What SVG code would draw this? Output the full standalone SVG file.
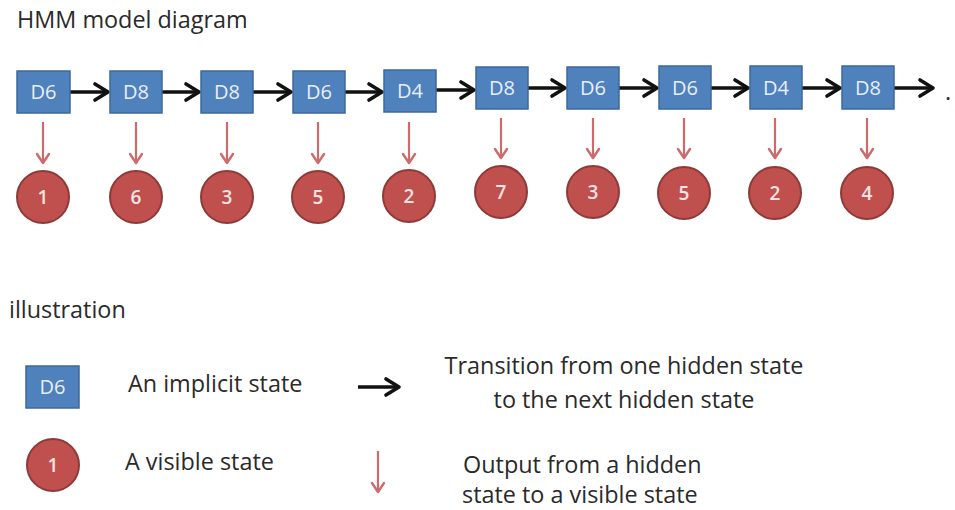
<svg xmlns="http://www.w3.org/2000/svg" width="955" height="510" viewBox="0 0 955 510">
<defs>
<style>
.t{font-family:"Open Sans","Noto Sans",sans-serif;fill:#2a2a2a;font-size:23.4px}
.box{fill:#4f81bd;stroke:#3c6a9e;stroke-width:1.5}
.bt{font-family:"Open Sans","Noto Sans",sans-serif;font-size:20px;fill:#e8eef8;text-anchor:middle}
.cir{fill:#c0504d;stroke:#8e3a38;stroke-width:2}
.ct{font-family:"Open Sans","Noto Sans",sans-serif;font-size:19px;fill:#f6e4e4;text-anchor:middle;font-weight:600}
.blk{stroke:#111;stroke-width:3.4;fill:none}
.red{stroke:#cd6b6b;stroke-width:2.2;fill:none}
</style>
<marker id="ab" markerUnits="userSpaceOnUse" markerWidth="20" markerHeight="22" refX="16" refY="11" orient="auto" viewBox="0 0 20 22">
<path d="M3,3 L16,11 L3,19" fill="none" stroke="#111" stroke-width="3.6" stroke-linecap="round" stroke-linejoin="round"/>
</marker>
<marker id="ar" markerUnits="userSpaceOnUse" markerWidth="14" markerHeight="16" refX="11" refY="8" orient="auto" viewBox="0 0 14 16">
<path d="M2,2 L11,8 L2,14" fill="none" stroke="#cd6b6b" stroke-width="2.4" stroke-linecap="round" stroke-linejoin="round"/>
</marker>
</defs>
<rect width="955" height="510" fill="#ffffff"/>
<text class="t" x="17" y="28">HMM model diagram</text>

<g id="connectors">
<line class="blk" x1="70" y1="92" x2="108" y2="92" marker-end="url(#ab)"/>
<line class="blk" x1="162" y1="92" x2="199" y2="92" marker-end="url(#ab)"/>
<line class="blk" x1="253" y1="92" x2="291" y2="92" marker-end="url(#ab)"/>
<line class="blk" x1="345" y1="92" x2="382" y2="92" marker-end="url(#ab)"/>
<line class="blk" x1="436" y1="90" x2="474" y2="90" marker-end="url(#ab)"/>
<line class="blk" x1="528" y1="88" x2="565" y2="88" marker-end="url(#ab)"/>
<line class="blk" x1="619" y1="88" x2="657" y2="88" marker-end="url(#ab)"/>
<line class="blk" x1="711" y1="88" x2="748" y2="88" marker-end="url(#ab)"/>
<line class="blk" x1="802" y1="88" x2="840" y2="88" marker-end="url(#ab)"/>
<line class="blk" x1="894" y1="88" x2="933" y2="88" marker-end="url(#ab)"/>
<line class="red" x1="43" y1="122" x2="43" y2="163" marker-end="url(#ar)"/>
<line class="red" x1="136" y1="122" x2="136" y2="163" marker-end="url(#ar)"/>
<line class="red" x1="227" y1="122" x2="227" y2="163" marker-end="url(#ar)"/>
<line class="red" x1="318" y1="122" x2="318" y2="163" marker-end="url(#ar)"/>
<line class="red" x1="409" y1="122" x2="409" y2="163" marker-end="url(#ar)"/>
<line class="red" x1="501" y1="118" x2="501" y2="158" marker-end="url(#ar)"/>
<line class="red" x1="593" y1="118" x2="593" y2="158" marker-end="url(#ar)"/>
<line class="red" x1="684" y1="118" x2="684" y2="158" marker-end="url(#ar)"/>
<line class="red" x1="775" y1="118" x2="775" y2="158" marker-end="url(#ar)"/>
<line class="red" x1="867" y1="118" x2="867" y2="158" marker-end="url(#ar)"/>
</g>
<text class="t" x="945" y="100">.</text>

<g id="h1"><rect class="box" x="17" y="71" width="53" height="42"/><text class="bt" x="43.5" y="99">D6</text></g>
<g id="h2"><rect class="box" x="110" y="71" width="52" height="42"/><text class="bt" x="136" y="99">D8</text></g>
<g id="h3"><rect class="box" x="201" y="71" width="52" height="42"/><text class="bt" x="227" y="99">D8</text></g>
<g id="h4"><rect class="box" x="293" y="71" width="52" height="42"/><text class="bt" x="319" y="99">D6</text></g>
<g id="h5"><rect class="box" x="384" y="70" width="52" height="42"/><text class="bt" x="410" y="98">D4</text></g>
<g id="h6"><rect class="box" x="476" y="67" width="52" height="42"/><text class="bt" x="502" y="95">D8</text></g>
<g id="h7"><rect class="box" x="567" y="67" width="52" height="42"/><text class="bt" x="593" y="95">D6</text></g>
<g id="h8"><rect class="box" x="659" y="66" width="52" height="43"/><text class="bt" x="685" y="95">D6</text></g>
<g id="h9"><rect class="box" x="750" y="66" width="52" height="43"/><text class="bt" x="776" y="95">D4</text></g>
<g id="h10"><rect class="box" x="842" y="66" width="52" height="43"/><text class="bt" x="868" y="95">D8</text></g>

<g id="v1"><circle class="cir" cx="43" cy="197" r="26"/><text class="ct" x="43" y="204">1</text></g>
<g id="v2"><circle class="cir" cx="136" cy="197" r="26"/><text class="ct" x="136" y="204">6</text></g>
<g id="v3"><circle class="cir" cx="227" cy="197" r="26"/><text class="ct" x="227" y="204">3</text></g>
<g id="v4"><circle class="cir" cx="318" cy="197" r="26"/><text class="ct" x="318" y="204">5</text></g>
<g id="v5"><circle class="cir" cx="409" cy="196" r="26"/><text class="ct" x="409" y="203">2</text></g>
<g id="v6"><circle class="cir" cx="501" cy="192" r="26"/><text class="ct" x="501" y="199">7</text></g>
<g id="v7"><circle class="cir" cx="593" cy="192" r="26"/><text class="ct" x="593" y="199">3</text></g>
<g id="v8"><circle class="cir" cx="684" cy="193" r="26"/><text class="ct" x="684" y="200">5</text></g>
<g id="v9"><circle class="cir" cx="775" cy="193" r="26"/><text class="ct" x="775" y="200">2</text></g>
<g id="v10"><circle class="cir" cx="867" cy="193" r="26"/><text class="ct" x="867" y="200">4</text></g>

<text class="t" x="9" y="318">illustration</text>

<g id="legend-hidden"><rect class="box" x="26" y="366" width="53" height="42"/><text class="bt" x="52.5" y="394">D6</text></g>
<text class="t" x="128" y="392">An implicit state</text>
<g id="legend-visible"><circle class="cir" cx="53" cy="465" r="26"/><text class="ct" x="53" y="472">1</text></g>
<text class="t" x="125" y="470">A visible state</text>
<g id="legend-arrows">
<line class="blk" x1="358" y1="387" x2="399" y2="387" marker-end="url(#ab)"/>
<line class="red" x1="378" y1="451" x2="378" y2="492" marker-end="url(#ar)"/>
</g>
<text class="t" x="624" y="374" text-anchor="middle">Transition from one hidden state</text>
<text class="t" x="624" y="408" text-anchor="middle">to the next hidden state</text>
<text class="t" x="463" y="473">Output from a hidden</text>
<text class="t" x="462" y="503">state to a visible state</text>
</svg>
